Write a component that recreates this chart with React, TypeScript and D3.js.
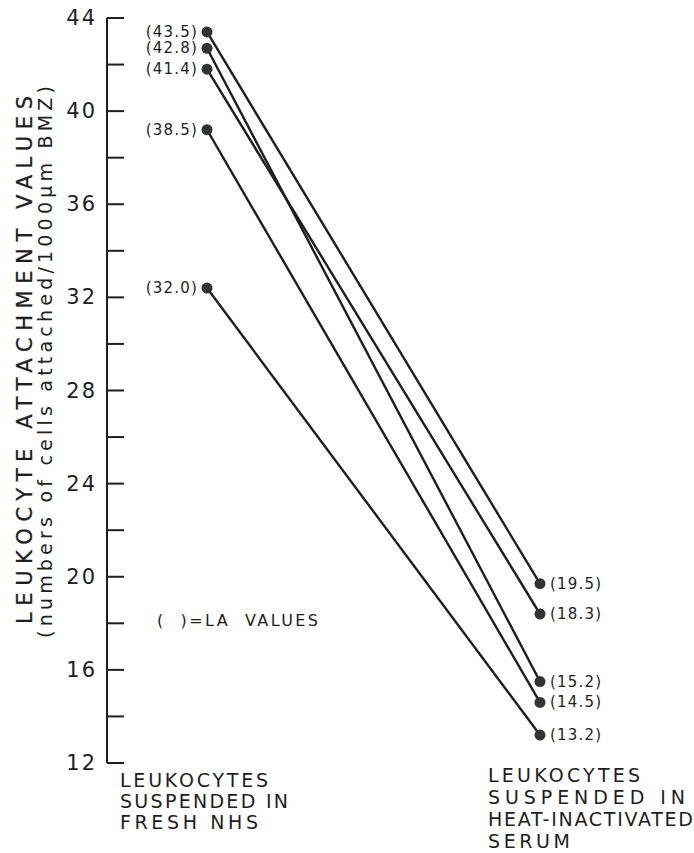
import React from "react";
import * as d3 from "d3";

// values (the printed labels are kept separately)
const conditions = ["fresh", "heat"];
const freshNHS = [43.4, 42.7, 41.8, 39.2, 32.4];
const heatInactivated = [19.7, 15.5, 18.4, 14.6, 13.2];
const freshLabels = ["43.5", "42.8", "41.4", "38.5", "32.0"];
const heatLabels = ["19.5", "15.2", "18.3", "14.5", "13.2"];
const yTicks = d3.range(12, 45, 2);
const freshTitle = ["LEUKOCYTES", "SUSPENDED IN", "FRESH NHS"];
const heatTitle = ["LEUKOCYTES", "SUSPENDED IN", "HEAT-INACTIVATED", "SERUM"];

const W = 694;
const H = 853;
const FONT = "'DejaVu Sans', 'Liberation Sans', sans-serif";
const INK = "#1e1e1e";
// widths of the hand lettering, px
const freshWidths = [148, 168, 138];
const heatWidths = [152, 197, 205, 82];

export default function App() {
  const y = d3.scaleLinear().domain([12, 44]).range([763, 18]);
  const x = d3.scalePoint<string>().domain(conditions).range([207, 540]);
  const axisX = 107;

  const pairs = freshNHS.map((v, i) => ({
    a: v,
    b: heatInactivated[i],
    la: freshLabels[i],
    lb: heatLabels[i],
  }));

  return (
    <svg
      width={W}
      height={H}
      style={{ position: "absolute", left: 0, top: 0, background: "#fff" }}
      fontFamily={FONT}
    >
      {/* y axis */}
      <line x1={axisX} x2={axisX} y1={y(44)} y2={y(12)} stroke={INK} strokeWidth={2} />
      {yTicks.map((t) => (
        <g key={t}>
          <line x1={axisX} x2={axisX + 17} y1={y(t)} y2={y(t)} stroke={INK} strokeWidth={2} />
          {t % 4 === 0 && (
            <text
              x={axisX - 10}
              y={y(t)}
              textAnchor="end"
              dominantBaseline="central"
              fontSize={21}
              letterSpacing={2}
              fill={INK}
            >
              {t}
            </text>
          )}
        </g>
      ))}

      {/* axis title */}
      <g transform="translate(25,360) rotate(-90)">
        <text
          textAnchor="middle"
          dominantBaseline="central"
          fontSize={21}
          fill={INK}
          stroke={INK}
          strokeWidth={0.3}
          textLength={528}
          lengthAdjust="spacing"
        >
          LEUKOCYTE ATTACHMENT VALUES
        </text>
      </g>
      <g transform="translate(45,362) rotate(-90)">
        <text
          textAnchor="middle"
          dominantBaseline="central"
          fontSize={19}
          fill={INK}
          textLength={552}
          lengthAdjust="spacing"
        >
          (numbers of cells attached/1000μm BMZ)
        </text>
      </g>

      {/* connecting lines */}
      {pairs.map((p, i) => (
        <line
          key={"l" + i}
          x1={x("fresh")}
          y1={y(p.a)}
          x2={x("heat")}
          y2={y(p.b)}
          stroke={INK}
          strokeWidth={2.4}
        />
      ))}

      {/* dots and labels */}
      {pairs.map((p, i) => (
        <g key={"d" + i}>
          <circle cx={x("fresh")} cy={y(p.a)} r={5.5} fill="#333" />
          <circle cx={x("heat")} cy={y(p.b)} r={5.5} fill="#333" />
          <text
            x={x("fresh")! - 9}
            y={y(p.a)}
            textAnchor="end"
            dominantBaseline="central"
            fontSize={15}
            letterSpacing={1.2}
            fill={INK}
          >
            ({p.la})
          </text>
          <text
            x={x("heat")! + 10}
            y={y(p.b)}
            dominantBaseline="central"
            fontSize={15}
            letterSpacing={1.2}
            fill={INK}
          >
            ({p.lb})
          </text>
        </g>
      ))}

      {/* legend note */}
      <text
        x={157}
        y={620}
        dominantBaseline="central"
        fontSize={16}
        fill={INK}
        textLength={161}
        lengthAdjust="spacing"
        style={{ whiteSpace: "pre" }}
      >
        {"(  )=LA  VALUES"}
      </text>

      {/* category labels */}
      {freshTitle.map((s, i) => (
        <text
          key={"f" + i}
          x={120}
          y={787 + i * 21}
          fontSize={19}
          fill={INK}
          textLength={freshWidths[i]}
          lengthAdjust="spacing"
        >
          {s}
        </text>
      ))}
      {heatTitle.map((s, i) => (
        <text
          key={"h" + i}
          x={488}
          y={782 + i * 22}
          fontSize={19}
          fill={INK}
          textLength={heatWidths[i]}
          lengthAdjust="spacing"
        >
          {s}
        </text>
      ))}
    </svg>
  );
}
